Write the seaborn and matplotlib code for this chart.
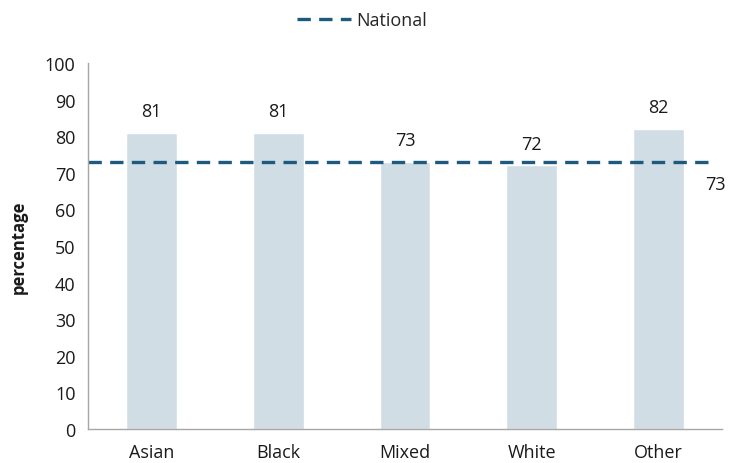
import matplotlib
matplotlib.use("Agg")
import matplotlib.pyplot as plt
import seaborn as sns
import pandas as pd
import numpy as np

categories = ["Asian", "Black", "Mixed", "White", "Other"]
values = [81, 81, 73, 72, 82]
national = 73
y_ticks = [0, 10, 20, 30, 40, 50, 60, 70, 80, 90, 100]

sns.set_style("white")
plt.rcParams["font.family"] = ["Open Sans", "DejaVu Sans"]

bar_color = "#D0DDE5"
line_color = "#1D5A7E"
axis_color = "#A6A6A6"
text_color = "#1A1A1A"

df = pd.DataFrame({"group": categories, "pct": values})

fig = plt.figure(figsize=(7.31, 4.64), dpi=100)
ax = fig.add_axes([0.1204, 0.0733, 0.8673, 0.7887])

sns.barplot(data=df, x="group", y="pct", color=bar_color, width=0.4,
            saturation=1, ax=ax)

ax.set_xlim(-0.5, len(categories) - 0.5)
ax.set_ylim(0, 100)
ax.set_yticks(y_ticks)
ax.tick_params(axis="y", labelsize=13, length=4, color=axis_color, pad=5,
               labelcolor=text_color)
ax.tick_params(axis="x", which="major", labelsize=13, length=0, pad=10,
               labelcolor=text_color)
ax.set_xticks(np.arange(-0.5, len(categories)), minor=True)
ax.tick_params(axis="x", which="minor", length=6, color=axis_color)
ax.set_xlabel("")
ax.set_ylabel("percentage", fontsize=12, fontweight="bold", labelpad=12,
              color=text_color)

for side in ["top", "right"]:
    ax.spines[side].set_visible(False)
for side in ["left", "bottom"]:
    ax.spines[side].set_color(axis_color)
    ax.spines[side].set_linewidth(1)

for i, v in enumerate(values):
    ax.annotate(f"{v}", (i, v), xytext=(0, 9), textcoords="offset points",
                ha="center", va="bottom", fontsize=13, color=text_color)

line = ax.axhline(national, xmin=0, xmax=0.984, color=line_color,
                  linestyle=(0, (4, 2.5)), linewidth=2.4, label="National")
ax.annotate(f"{national}", (4.45, national), xytext=(0, -16),
            textcoords="offset points", ha="center", va="center", fontsize=13,
            color=text_color)

fig.legend(handles=[line], labels=["National"], loc="center",
           bbox_to_anchor=(0.495, 0.955), frameon=False, fontsize=13,
           handlelength=3.0, handletextpad=0.3)

fig.savefig("out.png", dpi=100)
